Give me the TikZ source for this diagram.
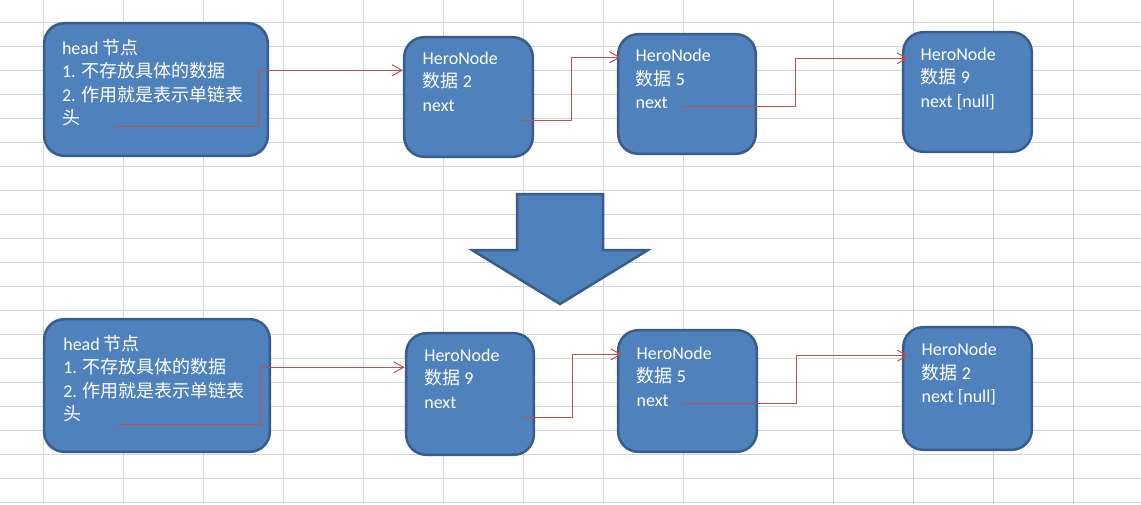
\documentclass[tikz,border=0pt]{standalone}
\usepackage{fontspec}
\setmainfont{Carlito}
\newfontfamily\cjk{Noto Sans CJK SC}
\usetikzlibrary{arrows.meta}
\definecolor{boxfill}{HTML}{4F81BD}
\definecolor{boxline}{HTML}{385D8A}
\definecolor{linkred}{HTML}{C0504D}
\definecolor{gridgray}{HTML}{D4D4D4}
\tikzset{
  box/.style={draw=boxline, fill=boxfill, line width=2.5pt, rounded corners=20pt,
    inner sep=0pt, outer sep=0pt, anchor=north west},
  txt/.style={anchor=north west, inner sep=0pt, outer sep=0pt, align=left,
    text=white, font=\fontsize{18}{23.6}\selectfont},
  link/.style={draw=linkred, line width=1pt, -{Straight Barb[length=10pt,width=11pt,line width=1pt]}},
  gridline/.style={draw=gridgray, line width=1pt}
}
\newcommand{\topstrut}{\rule{0pt}{17pt}}
\begin{document}
\begin{tikzpicture}[x=1pt,y=-1pt]
\useasboundingbox (0,0) rectangle (1141,504);
\fill[white] (0,0) rectangle (1141,504);
% grid
\foreach \gx in {43.3,123.3,203.3,283.3,363.3,443.3,523.3,603.3,683.3,833.3,913.3,993.3,1073.3}
  \draw[gridline] (\gx,0) -- (\gx,504);
\foreach \k in {0,...,20}
  \draw[gridline] (0,22.5+24*\k) -- (1141,22.5+24*\k);

% top row boxes
\node[box, minimum width=223.6pt, minimum height=132.6pt] (h1) at (44.2,23.2) {};
\node[box, minimum width=128.6pt, minimum height=119.6pt] (n2) at (404.2,37.2) {};
\node[box, minimum width=137.6pt, minimum height=119.6pt] (n5) at (618.2,34.2) {};
\node[box, minimum width=128.6pt, minimum height=119.6pt] (n9) at (903.2,32.2) {};
% bottom row boxes
\node[box, minimum width=225.6pt, minimum height=132.6pt] (h2) at (44.2,319.2) {};
\node[box, minimum width=127.6pt, minimum height=121.6pt] (m9) at (406.2,333.2) {};
\node[box, minimum width=138.6pt, minimum height=121.6pt] (m5) at (618.2,330.2) {};
\node[box, minimum width=128.6pt, minimum height=122.6pt] (m2) at (903.2,327.2) {};

% texts top
\node[txt] (h1t) at (62,37) {\topstrut head {\cjk 节点}\\1. {\cjk 不存放具体的数据}\\2. {\cjk 作用就是表示单链表}\\{\cjk 头}};
\node[txt] (n2t) at (422.7,47) {\topstrut HeroNode\\{\cjk 数据} 2\\next};
\node[txt] (n5t) at (635.7,44.7) {\topstrut HeroNode\\{\cjk 数据} 5\\next};
\node[txt] (n9t) at (920.7,43) {\topstrut HeroNode\\{\cjk 数据} 9\\next [null]};
% texts bottom
\node[txt] (h2t) at (63.3,333) {\topstrut head {\cjk 节点}\\1. {\cjk 不存放具体的数据}\\2. {\cjk 作用就是表示单链表}\\{\cjk 头}};
\node[txt] (m9t) at (424.3,344) {\topstrut HeroNode\\{\cjk 数据} 9\\next};
\node[txt] (m5t) at (636.7,342) {\topstrut HeroNode\\{\cjk 数据} 5\\next};
\node[txt] (m2t) at (921.7,338.7) {\topstrut HeroNode\\{\cjk 数据} 2\\next [null]};

% connector end points
\coordinate (s1) at (115,126.7);   \coordinate (t1) at (403,70.3);
\coordinate (s2) at (522.7,120.3); \coordinate (t2) at (620.5,57.3);
\coordinate (s3) at (683.3,106.5); \coordinate (t3) at (908,58.3);
\coordinate (s4) at (116.7,424.3); \coordinate (t4) at (404.7,367.3);
\coordinate (s5) at (523.3,417.7); \coordinate (t5) at (621.7,354.3);
\coordinate (s6) at (683.3,403.3); \coordinate (t6) at (908.3,355.7);

\draw[link] (s1) -| (258.3,70.3) -- (t1);
\draw[link] (s2) -| (571.7,57.3) -- (t2);
\draw[link] (s3) -| (795.7,58.3) -- (t3);
\draw[link] (s4) -| (260.3,367.3) -- (t4);
\draw[link] (s5) -| (572.7,354.3) -- (t5);
\draw[link] (s6) -| (796,355.7) -- (t6);

% big down arrow
\draw[draw=boxline, fill=boxfill, line width=2.5pt, line join=miter]
  (517,194) -- (603,194) -- (603,250) -- (648,250) -- (560,304) -- (472,250) -- (517,250) -- cycle;
\end{tikzpicture}
\end{document}
